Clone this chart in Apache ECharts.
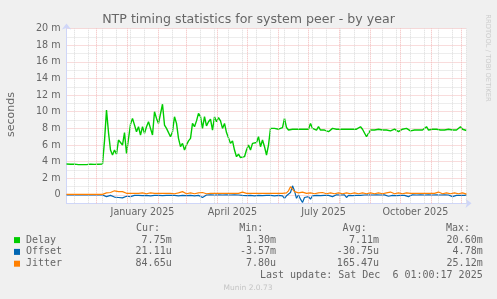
<!DOCTYPE html>
<html><head><meta charset="utf-8">
<script src="https://cdn.jsdelivr.net/npm/echarts@6/dist/echarts.min.js"></script>
<style>html,body{margin:0;padding:0;background:#f0f0f0}#c{width:497px;height:299px}</style>
</head><body><div id="c"></div>
<script>
// ---- data (days since 1 Nov 2024, step 2 days; values in milliseconds) ----
const days = [];
for (let d = 0; d <= 400; d += 2) days.push(d);

const delay = [
3.72,3.72,3.7,3.72,3.7,3.68,3.65,3.62,3.65,3.6,3.65,3.68,3.7,3.7,3.68,3.7,3.7,3.7,3.72,
6.5,10.2,7.5,5.4,4.8,5.4,4.9,6.6,6.8,6.0,7.5,5.0,5.0,8.5,9.2,9.0,7.6,8.2,7.2,8.2,7.4,8.2,
8.8,8.0,7.2,10.0,9.2,8.6,8.8,10.9,8.4,8.0,8.1,7.0,7.6,9.4,8.6,6.8,5.8,6.2,5.4,6.0,6.5,6.8,
8.6,8.2,8.9,9.8,9.4,8.0,9.4,8.3,8.8,9.1,7.8,9.4,8.8,9.3,8.9,8.0,8.6,7.5,7.4,6.2,6.5,5.4,
4.6,4.9,4.5,4.6,4.6,5.4,6.0,5.4,6.2,6.0,6.3,7.0,5.8,6.6,5.8,4.8,6.0,8.0,7.9,8.0,7.9,7.9,
8.0,8.1,9.2,8.1,7.8,8.0,7.9,7.8,7.9,7.8,7.9,7.8,7.9,7.8,7.9,8.6,8.0,7.9,7.8,8.2,7.8,7.9,
7.8,7.7,7.6,7.8,8.0,7.8,7.9,7.8,7.9,7.7,7.9,7.8,7.9,7.8,7.9,7.8,7.9,7.8,8.2,7.9,7.7,7.0,
7.4,7.8,7.9,7.8,
7.8,7.9,7.7,7.8,8.0,7.8,7.9,7.7,7.8,7.9,7.8,7.6,7.8,7.9,7.8,8.0,7.8,7.7,7.9,7.8,7.9,7.8,
7.7,7.8,7.9,8.2,7.8,7.7,7.9,7.8,7.9,7.7,7.8,7.9,7.8,7.8,7.9,7.7,7.8,7.9,7.8,7.9,8.2,7.9,
7.8,7.75
];
const offset = [
0,0,0,0,0,0,0,0,0,0,0,0,0,0,0,0,0,0,0,
-0.1,-0.2,-0.15,-0.05,-0.2,-0.25,-0.15,-0.3,-0.2,-0.35,-0.2,-0.15,-0.1,-0.2,-0.15,-0.05,0.0,
-0.05,0.02,-0.08,0.0,-0.05,0.03,-0.1,0.0,-0.05,0.02,-0.05,0.0,-0.08,0.02,-0.05,0.0,-0.05,
-0.2,
-0.05,0.0,-0.1,0.02,-0.05,0.0,-0.08,0.03,-0.05,0.0,-0.1,0.02,-0.05,0.0,
-0.3,
-0.1,0.0,-0.05,0.02,-0.08,0.0,-0.05,0.03,-0.1,0.0,-0.05,0.02,-0.05,0.0,-0.1,0.02,-0.05,0.0,
-0.15,
-0.05,0.02,-0.08,0.0,-0.05,0.03,-0.1,0.0,-0.05,0.02,-0.08,0.0,-0.05,0.02,-0.05,0.0,-0.1,0.02,-0.05,0.0,-0.1,
-0.4,-0.1,0.0,0.3,1.1,0.5,-0.4,0.0,-0.5,-0.9,-0.3,-0.1,-0.2,-0.5,-0.1,
0.0,-0.05,0.02,-0.08,0.0,-0.05,0.02,-0.05,0.0,
-0.2,
-0.05,0.02,-0.05,0.0,-0.08,0.02,
-0.3,
-0.05,0.0,-0.08,0.02,-0.05,0.0,-0.05,
-0.2,
0.0,-0.05,0.02,-0.08,0.0,-0.05,0.02,-0.05,0.0,-0.08,0.02,-0.05,
-0.15,
0.0,-0.05,0.02,-0.08,0.0,-0.05,0.02,-0.05,0.0,
-0.2,
-0.05,0.02,-0.05,0.0,-0.08,0.02,-0.05,0.0,-0.05,0.02,-0.08,0.0,-0.05,0.02,
-0.15,
0.0,-0.05,0.02,-0.08,0.0,-0.05,
-0.2,
0.0,-0.05,0.02,-0.05,
-0.2,
-0.05,0.02
];
const jitter = [
0.08,0.08,0.08,0.08,0.08,0.08,0.08,0.08,0.08,0.08,0.08,0.08,0.08,0.08,0.08,0.08,0.08,0.08,0.08,
0.2,0.25,0.2,0.3,0.25,0.5,0.3,0.4,0.3,0.4,0.25,0.2,0.3,0.2,0.25,0.2,0.3,
0.2,0.15,0.25,0.2,0.15,0.2,0.25,0.35,0.2,0.15,0.2,0.25,0.2,0.15,0.2,0.25,0.2,0.2,0.15,0.2,0.25,0.2,0.4,0.2,0.15,0.2,0.25,0.2,0.15,0.2,0.25,0.2,
0.3,
0.2,0.15,0.25,0.2,0.15,0.2,0.25,0.2,0.15,0.2,
0.25,0.2,0.15,0.2,0.25,0.2,0.15,0.2,0.2,0.35,
0.15,0.2,0.25,0.2,0.15,0.2,0.25,0.2,0.15,0.2,
0.25,0.2,0.15,0.2,0.25,0.2,0.15,0.2,0.25,0.2,
0.35,0.25,0.5,1.0,0.7,0.4,0.3,0.25,0.3,0.35,0.25,0.2,0.3,0.25,0.2,
0.15,0.2,0.25,0.2,0.3,0.2,0.15,0.2,0.25,0.2,
0.15,0.2,0.25,0.2,0.15,0.2,0.25,0.2,0.15,0.2,
0.25,0.2,0.15,0.2,0.25,0.2,0.15,0.2,0.25,0.2,
0.15,0.2,0.25,0.2,0.15,0.2,0.25,0.2,0.35,0.2,
0.15,0.2,0.25,0.2,0.15,0.2,0.25,0.35,0.2,0.15,
0.2,0.25,0.2,0.15,0.2,0.25,0.2,0.15,0.2,0.25,
0.2,0.15,0.35,0.2,0.15,0.2,0.25,0.2,0.15,0.2,
0.25,0.2,0.15,0.2,0.25,0.2,0.1
];

// x-axis labels (day offsets of mid-month label positions)
const labelDays = [76, 166, 257, 349];
const labelText = ['January 2025', 'April 2025', 'July 2025', 'October 2025'];
// grid line positions (days)
const monthDays = [30, 61, 92, 120, 151, 181, 212, 242, 273, 304, 334, 365, 395];
const minorDays = [8,22,36,50,64,78,106,134,148,162,176,190,204,218,232,246,260,274,288,302,316,330,344,358,372,386,400];

// legend table
const seriesNames = ['Delay', 'Offset', 'Jitter'];
const statHeads = ['Cur:', 'Min:', 'Avg:', 'Max:'];
const statCur = ['7.75m', '21.11u', '84.65u'];
const statMin = ['1.30m', '-3.57m', '7.80u'];
const statAvg = ['7.11m', '-30.75u', '165.47u'];
const statMax = ['20.60m', '4.78m', '25.12m'];
const lastUpdate = 'Last update: Sat Dec  6 01:00:17 2025';

const colors = ['#00cc00', '#0066b3', '#ff8000'];
const valuesBySeries = [delay, offset, jitter];

const chart = echarts.init(document.getElementById('c'), null, {renderer: 'canvas'});
const pair = vals => days.map((d, i) => [d, vals[i]]);
const FONT = 'DejaVu Sans';
const TXT = '#666666';
const MAJOR = '#f3b9b9';
const MINOR = '#dadada';

const graphics = [
  {type: 'text', left: 'center', top: 13, style: {text: 'NTP timing statistics for system peer - by year', fill: TXT, font: '12.6px "DejaVu Sans"'}},
  {type: 'text', x: 11, y: 114.5, rotation: Math.PI / 2, style: {text: 'seconds', fill: TXT, font: '11px "DejaVu Sans"', align: 'center', verticalAlign: 'middle'}},
  {type: 'text', x: 487.5, y: 58, rotation: -Math.PI / 2, style: {text: 'RRDTOOL / TOBI OETIKER', fill: '#cccccc', font: '6.8px "DejaVu Sans"', align: 'center', verticalAlign: 'middle'}},
  {type: 'text', x: 248, y: 287.7, style: {text: 'Munin 2.0.73', fill: '#c4c4c4', font: '7.5px "DejaVu Sans"', align: 'center', verticalAlign: 'middle'}},
  {type: 'text', x: 482.7, y: 275.6, style: {text: lastUpdate, fill: TXT, font: '10px "DejaVu Sans Mono"', align: 'right', verticalAlign: 'middle'}}
];
const headX = [160, 263.3, 366.7, 470];
const colX = [171.7, 276, 379, 482.7];
const rowY = [240.1, 251.9, 263.7];
statHeads.forEach((h, i) => graphics.push({type: 'text', x: headX[i], y: 228.3, style: {text: h, fill: TXT, font: '10px "DejaVu Sans Mono"', align: 'right', verticalAlign: 'middle'}}));
const stats = [statCur, statMin, statAvg, statMax];
seriesNames.forEach((n, r) => {
  graphics.push({type: 'rect', shape: {x: 14, y: rowY[r] - 3, width: 6, height: 6}, style: {fill: colors[r]}});
  graphics.push({type: 'text', x: 26, y: rowY[r], style: {text: n, fill: TXT, font: '10px "DejaVu Sans Mono"', align: 'left', verticalAlign: 'middle'}});
  stats.forEach((col, c) => graphics.push({type: 'text', x: colX[c], y: rowY[r], style: {text: col[r], fill: TXT, font: '10px "DejaVu Sans Mono"', align: 'right', verticalAlign: 'middle'}}));
});

const gridLines = [];
minorDays.forEach(d => gridLines.push({xAxis: d, lineStyle: {color: MINOR, type: [1, 1], width: 1}}));
monthDays.forEach(d => gridLines.push({xAxis: d, lineStyle: {color: MAJOR, type: [1, 1], width: 1}}));

const option = {
  backgroundColor: '#f0f0f0',
  animation: false,
  textStyle: {fontFamily: FONT},
  grid: {left: 66.5, right: 30.5, top: 28.5, bottom: 95.7, show: true, backgroundColor: '#ffffff', borderWidth: 0, containLabel: false},
  xAxis: {
    type: 'value', min: 0, max: 400,
    axisLine: {show: true, onZero: false, lineStyle: {color: '#cfd6f8', width: 1}, symbol: ['none', 'arrow'], symbolSize: [7, 6], symbolOffset: [0, 5]},
    axisTick: {show: false},
    splitLine: {show: false},
    axisLabel: {customValues: labelDays, formatter: v => labelText[labelDays.indexOf(v)] || '', color: TXT, fontSize: 9.6, fontFamily: FONT, margin: 4}
  },
  yAxis: {
    type: 'value', min: -1, max: 20, interval: 1,
    axisLine: {show: true, onZero: false, lineStyle: {color: '#cfd6f8', width: 1}, symbol: ['none', 'arrow'], symbolSize: [7, 6], symbolOffset: [0, 5]},
    axisTick: {show: false},
    splitLine: {show: true, lineStyle: {color: [MINOR, MAJOR], type: [1, 1], width: 1}},
    axisLabel: {formatter: v => (v % 2 !== 0 ? '' : (v === 0 ? '0' : v + ' m')), color: TXT, fontSize: 9.6, fontFamily: FONT, margin: 6}
  },
  series: [
    {type: 'line', name: 'grid', data: [], silent: true, z: 1,
     markLine: {symbol: 'none', silent: true, label: {show: false}, animation: false, data: gridLines}},
    ...seriesNames.map((n, i) => ({
      type: 'line', name: n, data: pair(valuesBySeries[i]), showSymbol: false, symbol: 'none',
      lineStyle: {color: colors[i], width: i === 0 ? 1.4 : 1.2}, itemStyle: {color: colors[i]}, z: 3 + i
    }))
  ],
  graphic: graphics
};
chart.setOption(option);
</script>
</body></html>
